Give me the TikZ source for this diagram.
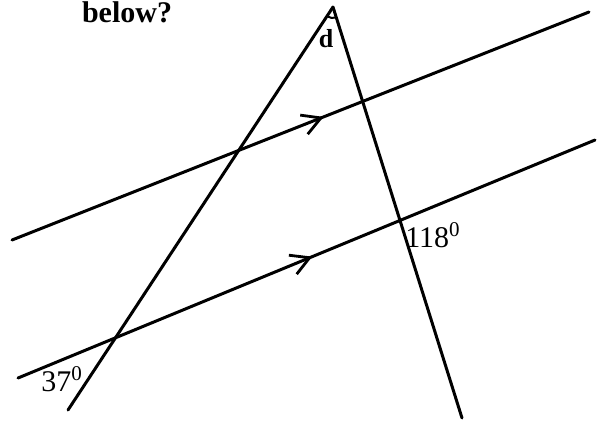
\documentclass[tikz,border=0pt]{standalone}
\usepackage{fontspec}
\setmainfont{Liberation Serif}
\usetikzlibrary{arrows.meta,decorations.markings,angles}

\tikzset{
  stroke/.style={draw=black, line width=1.5pt, line cap=round},
  parallel/.style={stroke, postaction={decorate},
    decoration={markings, mark=at position #1 with
      {\arrow{Straight Barb[length=3.2mm,width=3.6mm,line width=1.4pt]}}}},
  question/.style={font=\bfseries\fontsize{15}{17}\selectfont, anchor=base},
  anglelabel/.style={font=\fontsize{15}{17}\selectfont, anchor=base, inner sep=0pt},
}

\begin{document}
\begin{tikzpicture}[x=0.5pt, y=-0.5pt]
  \useasboundingbox (0,0) rectangle (597,425);

  % transversals meeting at the apex
  \coordinate (apex) at (333,7);
  \coordinate (leftfoot) at (68,410);
  \coordinate (rightfoot) at (462,418);

  % the two parallel lines
  \coordinate (upperstart) at (12,240);
  \coordinate (upperend) at (589,12);
  \coordinate (lowerstart) at (18,378);
  \coordinate (lowerend) at (595,140);

  \draw[stroke] (apex) -- (leftfoot);
  \draw[stroke] (apex) -- (rightfoot);
  \draw[parallel=0.54] (upperstart) -- (upperend);
  \draw[parallel=0.51] (lowerstart) -- (lowerend);

  % angle marks and labels
  \pic[draw, line width=1pt, angle radius=5.5pt] {angle = leftfoot--apex--rightfoot};
  \node[anglelabel, font=\bfseries\fontsize{13}{15}\selectfont] (dlabel) at (326,47) {d};
  \node[anglelabel] (acute) at (62,391) {37$^{\mathrm{0}}$};
  \node[anglelabel] (obtuse) at (433,247) {118$^{\mathrm{0}}$};

  \node[question] (title) at (127,22) {below?};
\end{tikzpicture}
\end{document}
